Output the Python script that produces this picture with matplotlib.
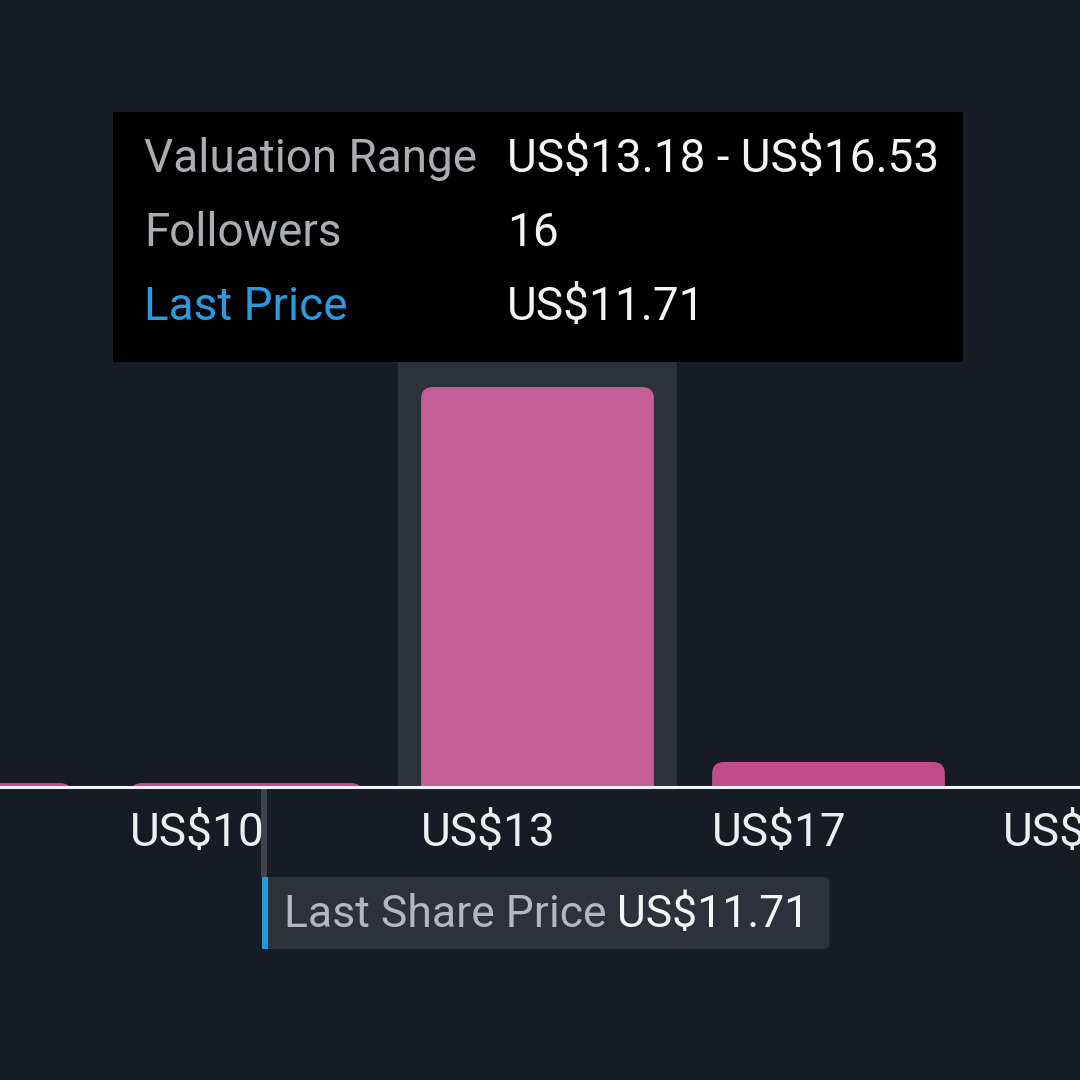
import numpy as np
import matplotlib.pyplot as plt
from matplotlib.patches import FancyBboxPatch, Rectangle

plt.rcParams['font.family'] = ['Roboto', 'DejaVu Sans']
plt.rcParams['text.parse_math'] = False

# histogram of fair value estimates
bin_edges = [6.48, 9.83, 13.18, 16.53, 19.88]
followers = [0, 0, 16, 1]
tick_labels = ["US$6", "US$10", "US$13", "US$17", "US$20"]
last_price = 11.71
hover_bin = 2
tip_rows = ["Valuation Range", "Followers", "Last Price"]
tip_values = ["US$13.18 - US$16.53", "16", "US$11.71"]

BG = "#161b24"
PINK = "#bf4d8a"
PINK_HOVER = "#c45e95"
PANEL = "#2c313a"
FS = 33

fig = plt.figure(figsize=(10.8, 10.8), dpi=100, facecolor=BG)
ax = fig.add_axes([0, 293 / 1080, 1, 787 / 1080])
ax.set_facecolor(BG)

bw = bin_edges[1] - bin_edges[0]
centers = np.array(bin_edges[:-1]) + bw / 2
bar_w = 0.8 * bw
ppu_x = 291 / bw          # pixels per dollar
ppu_y = 25                # pixels per follower

ax.set_xticks(np.array(bin_edges) + (bw - bar_w) / 2, tick_labels)
ax.tick_params(axis="x", length=0, pad=17, labelsize=FS, labelcolor="#eeeeee")
for t in ax.get_xticklabels():
    t.set_ha("left")
ax.set_yticks([])
ax.set_xlim(centers[hover_bin] - 537.5 / ppu_x, centers[hover_bin] + 542.5 / ppu_x)
ax.set_ylim(0, 787 / ppu_y)

# hover highlight column
ax.add_patch(Rectangle((centers[hover_bin] - 0.48 * bw, 0), 0.96 * bw, 17,
                       fc=PANEL, ec="none", zorder=1))

r = 12 / ppu_x
asp = (12 / ppu_y) / r
for i, n in enumerate(followers):
    h = max(n, 0.16)
    col = PINK_HOVER if i == hover_bin else PINK
    ax.add_patch(FancyBboxPatch((centers[i] - bar_w / 2, -2), bar_w, h + 2,
                                boxstyle=f"round,pad=0,rounding_size={r}",
                                mutation_aspect=asp, fc=col, ec="none", zorder=2))

for s in ["top", "left", "right"]:
    ax.spines[s].set_visible(False)
ax.spines["bottom"].set_color("#f2f2f2")
ax.spines["bottom"].set_linewidth(2.2)
ax.spines["bottom"].set_zorder(5)

# last share price marker
y_top = (787 - 877) / ppu_y
y_bot = (787 - 949) / ppu_y
ax.plot([last_price, last_price], [0, y_top], color="#3f444c", lw=4.3,
        solid_capstyle="butt", clip_on=False, zorder=1)
ax.add_patch(FancyBboxPatch((last_price - 2 / ppu_x, y_bot), 567 / ppu_x, y_top - y_bot,
                            boxstyle=f"round,pad=0,rounding_size={5 / ppu_x}",
                            mutation_aspect=(5 / ppu_y) / (5 / ppu_x),
                            fc=PANEL, ec="none", clip_on=False, zorder=3))
ax.add_patch(Rectangle((last_price - 2 / ppu_x, y_bot), 6 / ppu_x, y_top - y_bot,
                       fc="#2596e0", ec="none", clip_on=False, zorder=4))
y_base = (787 - 927) / ppu_y
t1 = ax.text(last_price + 20 / ppu_x, y_base, "Last Share Price", fontsize=32,
             color="#b4b7bc", va="baseline", ha="left", zorder=5)
renderer = fig.canvas.get_renderer()
x1 = t1.get_window_extent(renderer).x1
x_val = ax.transData.inverted().transform((x1 + 10, 0))[0]
ax.text(x_val, y_base, f"US${last_price:.2f}", fontsize=32, color="#f5f5f5",
        va="baseline", ha="left", zorder=5)

# tooltip
fig.patches.append(Rectangle((113 / 1080, 1 - 362 / 1080), 850 / 1080, 250 / 1080,
                             transform=fig.transFigure, fc="#000000", ec="none"))
row_colors = ["#aaadb2", "#aaadb2", "#2a9be0"]
for k, (lab, val) in enumerate(zip(tip_rows, tip_values)):
    yb = 1 - (172 + 74 * k) / 1080
    fig.text(144 / 1080, yb, lab, fontsize=FS, color=row_colors[k], va="baseline")
    fig.text(507 / 1080, yb, val, fontsize=FS, color="#f5f5f5", va="baseline")

fig.savefig("out.png", dpi=100, facecolor=BG)
